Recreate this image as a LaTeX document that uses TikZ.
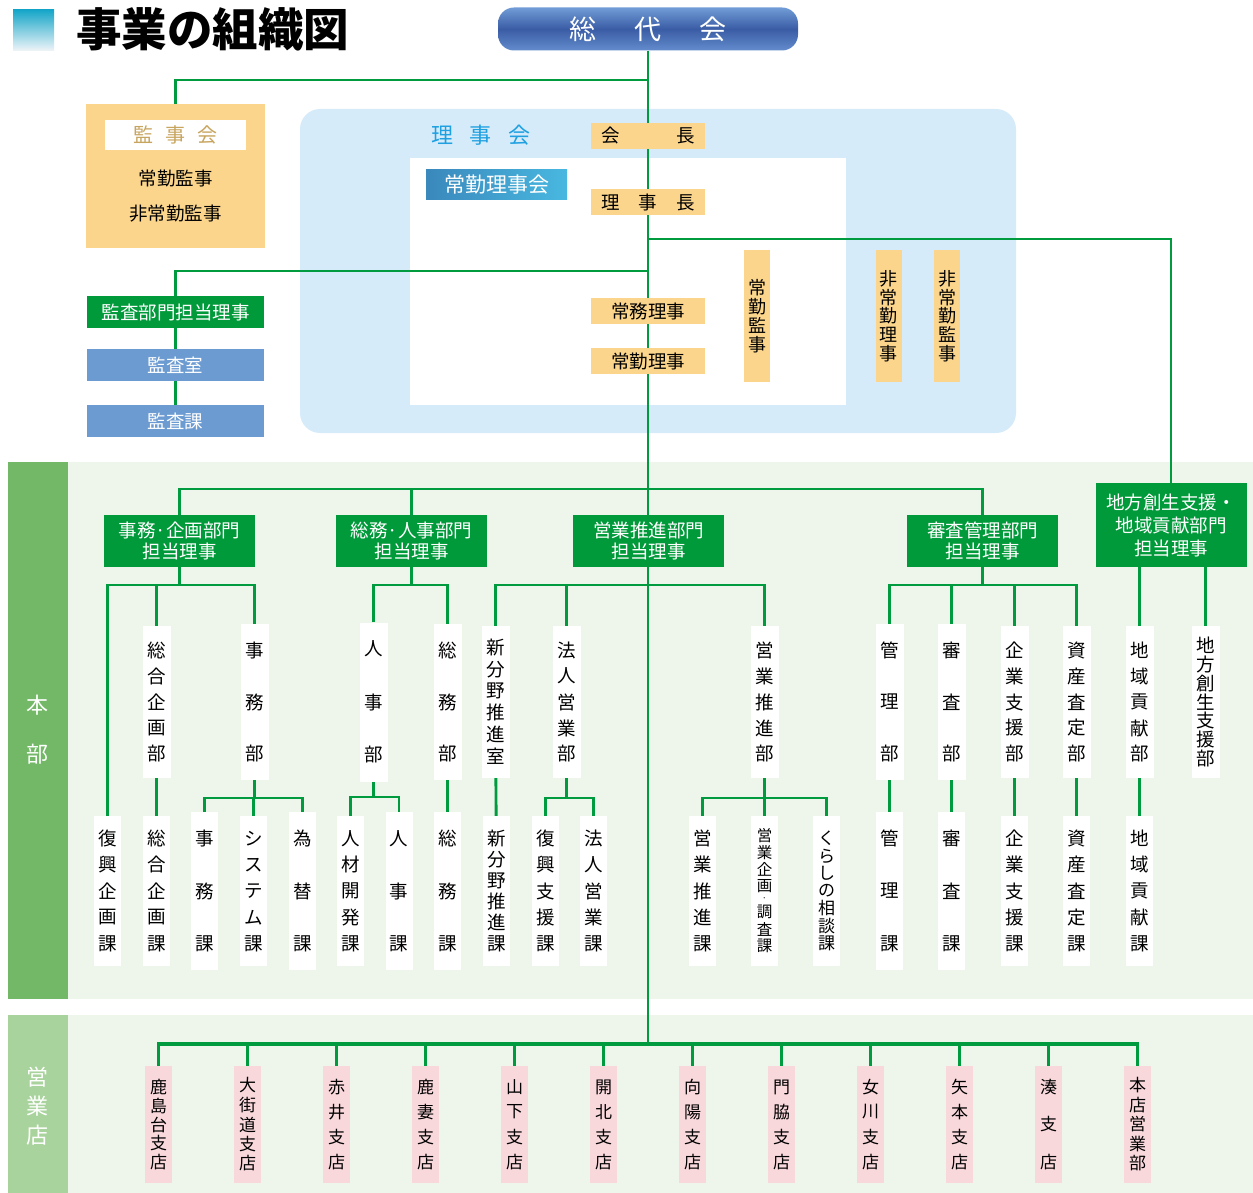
\documentclass[tikz,border=0pt]{standalone}
\usepackage{fontspec}
\setmainfont{Noto Sans CJK JP}
\definecolor{lg}{RGB}{0,155,62}
\definecolor{gb}{RGB}{0,154,58}
\definecolor{hstrip}{RGB}{114,184,102}
\definecolor{estrip}{RGB}{169,211,156}
\definecolor{panelg}{RGB}{238,246,236}
\definecolor{orng}{RGB}{251,213,140}
\definecolor{lblue}{RGB}{214,235,249}
\definecolor{kblue}{RGB}{108,155,210}
\definecolor{pinkb}{RGB}{249,216,220}
\definecolor{rcyan}{RGB}{30,160,225}
\definecolor{kjtan}{RGB}{200,165,95}
\definecolor{sdtop}{RGB}{112,156,214}
\definecolor{sdmid}{RGB}{58,92,165}
\definecolor{sdbot}{RGB}{100,140,205}
\definecolor{tcy}{RGB}{20,165,200}
\definecolor{tlow}{RGB}{238,244,248}
\definecolor{jkl}{RGB}{58,136,188}
\definecolor{jkr}{RGB}{72,184,224}
\newcommand\fsz[1]{\fontsize{#1}{#1}\selectfont}
\makeatletter
\newcount\vs@n \newcount\vs@d \newdimen\vs@p \newdimen\vs@dh
\vs@dh=9pt
\def\vs@dot{·}
\newcommand\vstk[2]{%
  \vs@n=0\relax\vs@d=0\relax
  \@tfor\vs@c:=#2\do{\ifx\vs@c\vs@dot\advance\vs@d\@ne\else\advance\vs@n\@ne\fi}%
  \vs@p=#1\relax
  \advance\vs@p by -\vs@d\vs@dh
  \advance\vs@n\m@ne
  \ifnum\vs@n>\z@ \divide\vs@p\vs@n \fi
  \vbox{\offinterlineskip
    \@tfor\vs@c:=#2\do{%
      \ifx\vs@c\vs@dot
        \hbox to 1.2em{\hss\vbox to \vs@dh{\vss\hbox{\fsz{9}\vs@c}\vss}\hss}%
      \else
        \hbox to 1.2em{\hss\vbox to \vs@p{\vss\hbox{\vs@c}\vss}\hss}%
      \fi}}}
\makeatother
\pgfdeclarelayer{panels}
\pgfdeclarelayer{wires}
\pgfsetlayers{panels,wires,main}
\tikzset{
 ln/.style={draw=lg, line width=2.9pt},
 obox/.style={fill=orng, minimum width=114pt, minimum height=26pt, inner sep=0pt, font=\fsz{18.5}},
 ovbox/.style={fill=orng, minimum width=26pt, minimum height=132pt, inner sep=0pt, font=\fsz{18}},
 gbox/.style={fill=gb, text=white, minimum width=151pt, minimum height=52pt, inner sep=0pt, align=center, font=\fontsize{18.5}{21}\selectfont},
 kbox/.style={fill=kblue, text=white, minimum width=177pt, minimum height=32pt, inner sep=0pt, font=\fsz{18.5}},
 upbox/.style={fill=white, minimum width=28pt, minimum height=152pt, inner sep=0pt, font=\fsz{18.5}},
 lowbox/.style={fill=white, minimum width=27pt, minimum height=150pt, inner sep=0pt, font=\fsz{18.5}},
 pbox/.style={fill=pinkb, minimum width=27pt, minimum height=117pt, inner sep=0pt, font=\fsz{17}},
 plain/.style={inner sep=0pt, font=\fsz{18.5}},
}
\begin{document}
\begin{tikzpicture}[x=1pt,y=-1pt]
\useasboundingbox (0,0) rectangle (1253,1193);
% panels
\begin{pgfonlayer}{panels}
 \fill[lblue, rounded corners=20pt] (300,109) rectangle (1016,433);
 \fill[white] (410,158) rectangle (846,405);
 \fill[hstrip] (8,462) rectangle (68,999);
 \fill[panelg] (68,462) rectangle (1253,999);
 \fill[estrip] (8,1015) rectangle (68,1193);
 \fill[panelg] (68,1015) rectangle (1253,1193);
\end{pgfonlayer}
% title
\node[top color=tcy, bottom color=tlow, minimum width=41pt, minimum height=41pt, inner sep=0pt] (tsq) at (33.5,30) {};
\node[anchor=west, inner sep=0pt, font=\fontsize{45.5}{50}\selectfont\bfseries] (title) at (76,29) {事業の組織図};
\node[rounded corners=16pt, top color=sdtop, bottom color=sdbot, middle color=sdmid, minimum width=300pt, minimum height=43pt, inner sep=0pt, text=white, font=\fsz{27}] (sodai) at (648,29) {総\hspace{38pt}代\hspace{38pt}会};
% kanjikai
\node[fill=orng, minimum width=179pt, minimum height=144pt, inner sep=0pt] (kanjikai) at (175.5,176) {};
\node[fill=white, minimum width=141pt, minimum height=30pt, inner sep=0pt, text=kjtan, font=\fsz{20}] (kjlabel) at (175.5,135) {監\hspace{12pt}事\hspace{12pt}会};
\node[plain] (jokinkanji) at (175.5,178) {常勤監事};
\node[plain] (hijokinkanji) at (175.5,214) {非常勤監事};
% rijikai
\node[inner sep=0pt, text=rcyan, font=\fsz{22}] (rijikai) at (481,135) {理\hspace{17pt}事\hspace{17pt}会};
\node[obox] (kaicho) at (648,136) {会\hspace{57pt}長};
\node[left color=jkl, right color=jkr, minimum width=141pt, minimum height=30pt, inner sep=0pt, text=white, font=\fsz{21}] (jkrijikai) at (496.5,185) {常勤理事会};
\node[obox] (rijicho) at (648,202) {理\hspace{19pt}事\hspace{19pt}長};
\node[obox] (jomu) at (648,311) {常務理事};
\node[obox] (jokinri) at (648,361) {常勤理事};
\node[ovbox] (jkkanji) at (757,316) {\vstk{57pt}{常勤監事}};
\node[ovbox] (hjri) at (888.5,316) {\vstk{75pt}{非常勤理事}};
\node[ovbox] (hjkan) at (947,316) {\vstk{75pt}{非常勤監事}};
% kansa
\node[kbox, fill=gb] (kbmon) at (175.5,312) {監査部門担当理事};
\node[kbox] (kshitsu) at (175.5,365) {監査室};
\node[kbox] (kka) at (175.5,421) {監査課};
% section labels
\node[inner sep=0pt, text=white, font=\fsz{22}] (honbu) at (37,730) {\vstk{49pt}{本部}};
\node[inner sep=0pt, text=white, font=\fsz{22}] (eigyoten) at (37,1106) {\vstk{58pt}{営業店}};
% departments
\node[gbox] (d1) at (179.5,541) {事務·企画部門\\担当理事};
\node[gbox] (d2) at (411.5,541) {総務·人事部門\\担当理事};
\node[gbox] (d3) at (648.5,541) {営業推進部門\\担当理事};
\node[gbox] (d4) at (982.5,541) {審査管理部門\\担当理事};
\node[gbox, minimum height=84pt, font=\fontsize{18.5}{23}\selectfont] (d5) at (1171,525) {地方創生支援・\\地域貢献部門\\担当理事};
% upper boxes
\node[upbox] (sogobu) at (156.5,702) {\vstk{104pt}{総合企画部}};
\node[upbox] (jimubu) at (254.5,702) {\vstk{104pt}{事務部}};
\node[upbox] (jinjibu) at (373.5,702) {\vstk{106pt}{人事部}};
\node[upbox] (somubu) at (447.5,702) {\vstk{104pt}{総務部}};
\node[upbox] (shinshitsu) at (495.5,702) {\vstk{108pt}{新分野推進室}};
\node[upbox] (hojinbu) at (566.5,702) {\vstk{104pt}{法人営業部}};
\node[upbox] (eisuibu) at (764.5,702) {\vstk{104pt}{営業推進部}};
\node[upbox] (kanribu) at (889.5,702) {\vstk{104pt}{管理部}};
\node[upbox] (shinsabu) at (951.5,702) {\vstk{104pt}{審査部}};
\node[upbox] (kigyobu) at (1014.5,702) {\vstk{104pt}{企業支援部}};
\node[upbox] (shisanbu) at (1076.5,702) {\vstk{104pt}{資産査定部}};
\node[upbox] (chiikibu) at (1139.5,702) {\vstk{104pt}{地域貢献部}};
\node[upbox] (soseibu) at (1205.5,702) {\vstk{113pt}{地方創生支援部}};
% lower boxes
\node[lowbox] (fukkoka) at (107.5,891) {\vstk{105pt}{復興企画課}};
\node[lowbox] (sogoka) at (156.5,891) {\vstk{105pt}{総合企画課}};
\node[lowbox] (jimuka) at (204.5,891) {\vstk{105pt}{事務課}};
\node[lowbox] (sysuka) at (253.5,891) {\vstk{105pt}{システム課}};
\node[lowbox] (tameka) at (302.5,891) {\vstk{105pt}{為替課}};
\node[lowbox] (jinzaika) at (350.5,891) {\vstk{105pt}{人材開発課}};
\node[lowbox] (jinjika) at (399,891) {\vstk{105pt}{人事課}};
\node[lowbox] (somuka) at (447.5,891) {\vstk{105pt}{総務課}};
\node[lowbox] (shinka) at (496.5,891) {\vstk{105pt}{新分野推進課}};
\node[lowbox] (fkshienka) at (545.5,891) {\vstk{105pt}{復興支援課}};
\node[lowbox] (hojinka) at (593.5,891) {\vstk{105pt}{法人営業課}};
\node[lowbox] (eisuika) at (702.5,891) {\vstk{105pt}{営業推進課}};
\node[lowbox, font=\fsz{15.5}] (eikikaku) at (764.5,891) {\vstk{110pt}{営業企画·調査課}};
\node[lowbox, font=\fsz{17}] (kurashi) at (826.5,891) {\vstk{105pt}{くらしの相談課}};
\node[lowbox] (kanrika) at (889.5,891) {\vstk{105pt}{管理課}};
\node[lowbox] (shinsaka) at (951.5,891) {\vstk{105pt}{審査課}};
\node[lowbox] (kigyoka) at (1014.5,891) {\vstk{105pt}{企業支援課}};
\node[lowbox] (shisanka) at (1076.5,891) {\vstk{105pt}{資産査定課}};
\node[lowbox] (chiikika) at (1139.5,891) {\vstk{105pt}{地域貢献課}};
% branches
\node[pbox] (st1) at (158.5,1124.5) {\vstk{75pt}{鹿島台支店}};
\node[pbox] (st2) at (247.5,1124.5) {\vstk{78pt}{大街道支店}};
\node[pbox] (st3) at (336.5,1124.5) {\vstk{75pt}{赤井支店}};
\node[pbox] (st4) at (425.5,1124.5) {\vstk{75pt}{鹿妻支店}};
\node[pbox] (st5) at (514.5,1124.5) {\vstk{75pt}{山下支店}};
\node[pbox] (st6) at (603.5,1124.5) {\vstk{75pt}{開北支店}};
\node[pbox] (st7) at (692.5,1124.5) {\vstk{75pt}{向陽支店}};
\node[pbox] (st8) at (781.5,1124.5) {\vstk{75pt}{門脇支店}};
\node[pbox] (st9) at (870.5,1124.5) {\vstk{75pt}{女川支店}};
\node[pbox] (st10) at (959.5,1124.5) {\vstk{75pt}{矢本支店}};
\node[pbox] (st11) at (1048.5,1124.5) {\vstk{75pt}{湊支店}};
\node[pbox] (st12) at (1137.5,1124.5) {\vstk{78pt}{本店営業部}};
% coordinates
\coordinate (trunkend) at (648,1044);
\coordinate (c80) at (648,80);
\coordinate (c239) at (648,239);
\coordinate (c271) at (648,271);
\coordinate (c489) at (648,489);
\coordinate (b1) at (179.5,585);
\coordinate (b2) at (254.5,798);
\coordinate (b3) at (411.5,585);
\coordinate (b4) at (373.5,797);
\coordinate (b5) at (648,585);
\coordinate (b6) at (566.5,798);
\coordinate (b7) at (764.5,798);
\coordinate (b8) at (982.5,585);
% wires
\begin{pgfonlayer}{wires}
\draw[ln] (sodai.south) -- (trunkend);
\draw[ln] (c80) -| (kanjikai.north);
\draw[ln] (c239) -| (d5.north);
\draw[ln] (c271) -| (kbmon.north);
\draw[ln] (kbmon) -- (kshitsu);
\draw[ln] (kshitsu) -- (kka);
\draw[ln] (d1.north) |- (c489) -| (d4.north);
\draw[ln] (d2.north) -- (d2.north |- c489);
% d1
\draw[ln] (d1.south) -- (b1);
\draw[ln] (fukkoka.north) |- (b1) -| (jimubu.north);
\draw[ln] (sogobu.north) -- (sogobu.north |- b1);
\draw[ln] (sogobu) -- (sogoka);
\draw[ln] (jimubu.south) -- (b2);
\draw[ln] (jimuka.north) |- (b2) -| (tameka.north);
\draw[ln] (sysuka.north) -- (sysuka.north |- b2);
% d2
\draw[ln] (d2.south) -- (b3);
\draw[ln] (jinjibu.north) |- (b3) -| (somubu.north);
\draw[ln] (somubu) -- (somuka);
\draw[ln] (jinjibu.south) -- (b4);
\draw[ln] (jinzaika.north) |- (b4) -| (jinjika.north);
% d3
\draw[ln] (shinshitsu.north) |- (b5) -| (eisuibu.north);
\draw[ln] (hojinbu.north) -- (hojinbu.north |- b5);
\draw[ln] (shinshitsu) -- (shinka);
\draw[ln] (hojinbu.south) -- (b6);
\draw[ln] (fkshienka.north) |- (b6) -| (hojinka.north);
\draw[ln] (eisuibu.south) -- (b7);
\draw[ln] (eisuika.north) |- (b7) -| (kurashi.north);
\draw[ln] (eikikaku.north) -- (eikikaku.north |- b7);
% d4
\draw[ln] (d4.south) -- (b8);
\draw[ln] (kanribu.north) |- (b8) -| (shisanbu.north);
\draw[ln] (shinsabu.north) -- (shinsabu.north |- b8);
\draw[ln] (kigyobu.north) -- (kigyobu.north |- b8);
\draw[ln] (kanribu) -- (kanrika);
\draw[ln] (shinsabu) -- (shinsaka);
\draw[ln] (kigyobu) -- (kigyoka);
\draw[ln] (shisanbu) -- (shisanka);
% d5
\draw[ln] (chiikibu.north |- d5.south) -- (chiikibu.north);
\draw[ln] (soseibu.north |- d5.south) -- (soseibu.north);
\draw[ln] (chiikibu) -- (chiikika);
% branches
\draw[ln, line width=3.6pt] (st1.north) |- (trunkend) -| (st12.north);
\foreach \i in {2,...,11} \draw[ln] (st\i.north) -- (st\i.north |- trunkend);
\end{pgfonlayer}
\end{tikzpicture}
\end{document}
